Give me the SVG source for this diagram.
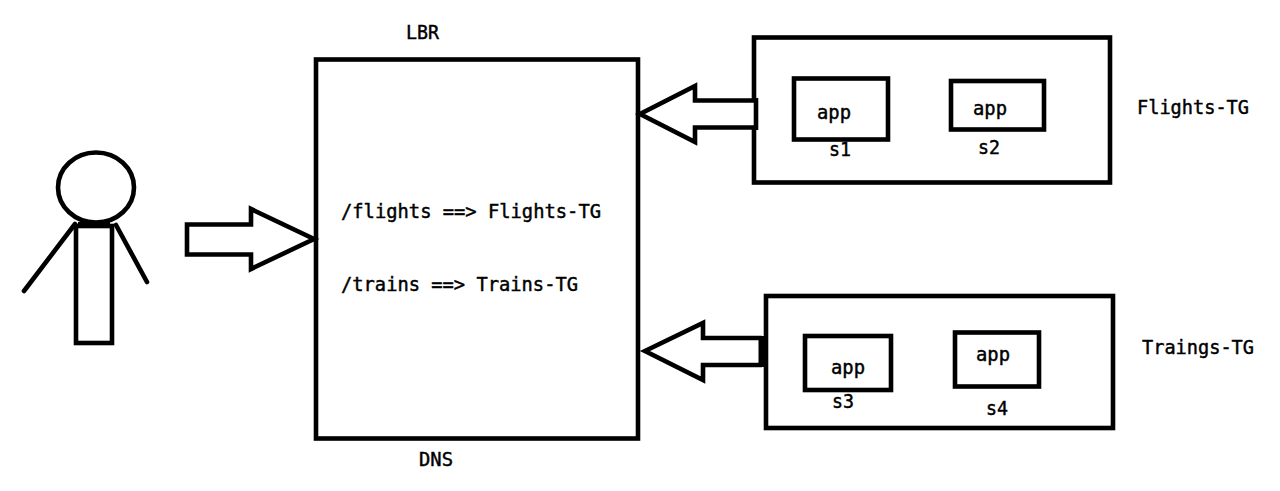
<svg xmlns="http://www.w3.org/2000/svg" width="1280" height="491" viewBox="0 0 1280 491">
<style>
.s{fill:none;stroke:#000;stroke-width:4.600;stroke-linejoin:miter}
.a{fill:#fff;stroke:#000;stroke-width:4.600;stroke-linejoin:miter}
.l{fill:none;stroke:#000;stroke-width:4.600;stroke-linecap:round}
text{font-family:"DejaVu Sans Mono","Liberation Mono",monospace;font-size:19px;fill:#000;stroke:#000;stroke-width:.45}
</style>
<rect width="1280" height="491" fill="#fff"/>
<g id="user">
<ellipse class="s" cx="96" cy="187.500" rx="38" ry="35"/>
<rect class="s" x="76" y="226" width="36" height="117"/>
<path class="s" d="M78 225 H110" style="stroke-width:6"/>
<path class="l" d="M75 224 L24 291"/>
<path class="l" d="M116 225 L147 282"/>
</g>
<g id="lbr">
<rect class="s" x="316" y="59.500" width="322" height="379"/>
<text x="406" y="39" textLength="33" lengthAdjust="spacingAndGlyphs">LBR</text>
<text x="419" y="466" textLength="34" lengthAdjust="spacingAndGlyphs">DNS</text>
<text x="341" y="218" textLength="260" lengthAdjust="spacingAndGlyphs">/flights ==&gt; Flights-TG</text>
<text x="341" y="291" textLength="237" lengthAdjust="spacingAndGlyphs">/trains ==&gt; Trains-TG</text>
</g>
<g id="flights-tg">
<rect class="s" x="754" y="37.500" width="356" height="145"/>
<text x="1137" y="114" textLength="112" lengthAdjust="spacingAndGlyphs">Flights-TG</text>
</g>
<g id="app-s1">
<rect class="s" x="794" y="78.500" width="94" height="61"/>
<text x="817" y="119" textLength="34" lengthAdjust="spacingAndGlyphs">app</text>
<text x="829" y="156" textLength="22" lengthAdjust="spacingAndGlyphs">s1</text>
</g>
<g id="app-s2">
<rect class="s" x="951" y="81" width="93" height="48.500"/>
<text x="973" y="115" textLength="34" lengthAdjust="spacingAndGlyphs">app</text>
<text x="978" y="154" textLength="22" lengthAdjust="spacingAndGlyphs">s2</text>
</g>
<g id="trains-tg">
<rect class="s" x="766" y="296" width="347" height="132"/>
<text x="1142" y="354" textLength="112" lengthAdjust="spacingAndGlyphs">Traings-TG</text>
</g>
<g id="app-s3">
<rect class="s" x="805" y="336" width="86" height="54"/>
<text x="831" y="374" textLength="34" lengthAdjust="spacingAndGlyphs">app</text>
<text x="832" y="408" textLength="22" lengthAdjust="spacingAndGlyphs">s3</text>
</g>
<g id="app-s4">
<rect class="s" x="955" y="332.500" width="84" height="54"/>
<text x="976" y="361" textLength="34" lengthAdjust="spacingAndGlyphs">app</text>
<text x="986" y="415" textLength="22" lengthAdjust="spacingAndGlyphs">s4</text>
</g>
<g id="connectors">
<path class="a" d="M187 224.500 H251 V209 L314 239 L251 269 V254.500 H187 Z"/>
<path class="a" d="M756 100.500 H695 V86 L640 114 L695 142 V127.500 H756"/>
<path class="s" d="M756 98 V130"/>
<path class="a" d="M762 338 H703 V323 L645 351 L703 380 V365 H762"/>
<path class="s" d="M762 336 V367" style="stroke-width:7"/>
</g>
</svg>
